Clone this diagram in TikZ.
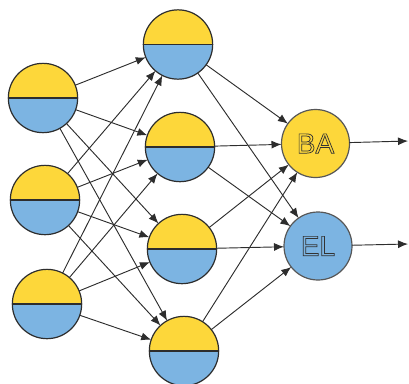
\documentclass[tikz,border=0pt]{standalone}
\usepackage{fontspec}
\setmainfont{Liberation Sans}
\usetikzlibrary{arrows.meta}
\definecolor{nodeyellow}{RGB}{253,215,58}
\definecolor{nodeblue}{RGB}{124,180,226}
\definecolor{edgegray}{RGB}{45,45,45}
\tikzset{
  unit/.style={circle, draw=edgegray, line width=0.9pt, inner sep=0pt, outer sep=0pt,
    minimum size=52pt,
    path picture={
      \fill[nodeyellow] (path picture bounding box.north west) rectangle (path picture bounding box.east);
      \fill[nodeblue] (path picture bounding box.west) rectangle (path picture bounding box.south east);
      \draw[edgegray, line width=1.2pt] (path picture bounding box.west) -- (path picture bounding box.east);
    }},
  outunit/.style={circle, draw=edgegray!80, line width=0.9pt, inner sep=0pt, outer sep=0pt,
    minimum size=51pt, font=\fontsize{21}{21}\selectfont},
  link/.style={draw=edgegray, line width=0.7pt, -{Latex[length=7.5pt,width=6pt]}}
}
% hollow lettering: filled with the node colour, stroked dark
\newcommand{\hollowtext}[2]{{\color{#1}\special{pdf:code 2 Tr 0.55 w 0.2 0.2 0.2 RG}#2\special{pdf:code 0 Tr}}}
\begin{document}
\begin{tikzpicture}[x=0.75pt,y=-0.75pt]
\useasboundingbox (0,0) rectangle (409,383);
% input layer
\node[unit] (i1) at (43,98) {};
\node[unit] (i2) at (45,200) {};
\node[unit] (i3) at (47,304) {};
% hidden layer
\node[unit] (h1) at (178,44.5) {};
\node[unit] (h2) at (180,147) {};
\node[unit] (h3) at (182,249) {};
\node[unit] (h4) at (184,351) {};
% output layer
\node[outunit, fill=nodeyellow] (ba) at (315.5,143.5) {\hollowtext{nodeyellow}{BA}};
\node[outunit, fill=nodeblue] (el) at (318,246) {\hollowtext{nodeblue}{EL}};
\coordinate (oba) at (408,141);
\coordinate (oel) at (408,244);
% connections
\foreach \i in {i1,i2,i3}
  \foreach \h in {h1,h2,h3,h4}
    \draw[link] (\i) -- (\h);
\foreach \h in {h1,h2,h3,h4}
  \foreach \o in {ba,el}
    \draw[link] (\h) -- (\o);
\draw[link] (ba) -- (oba);
\draw[link] (el) -- (oel);
\end{tikzpicture}
\end{document}
